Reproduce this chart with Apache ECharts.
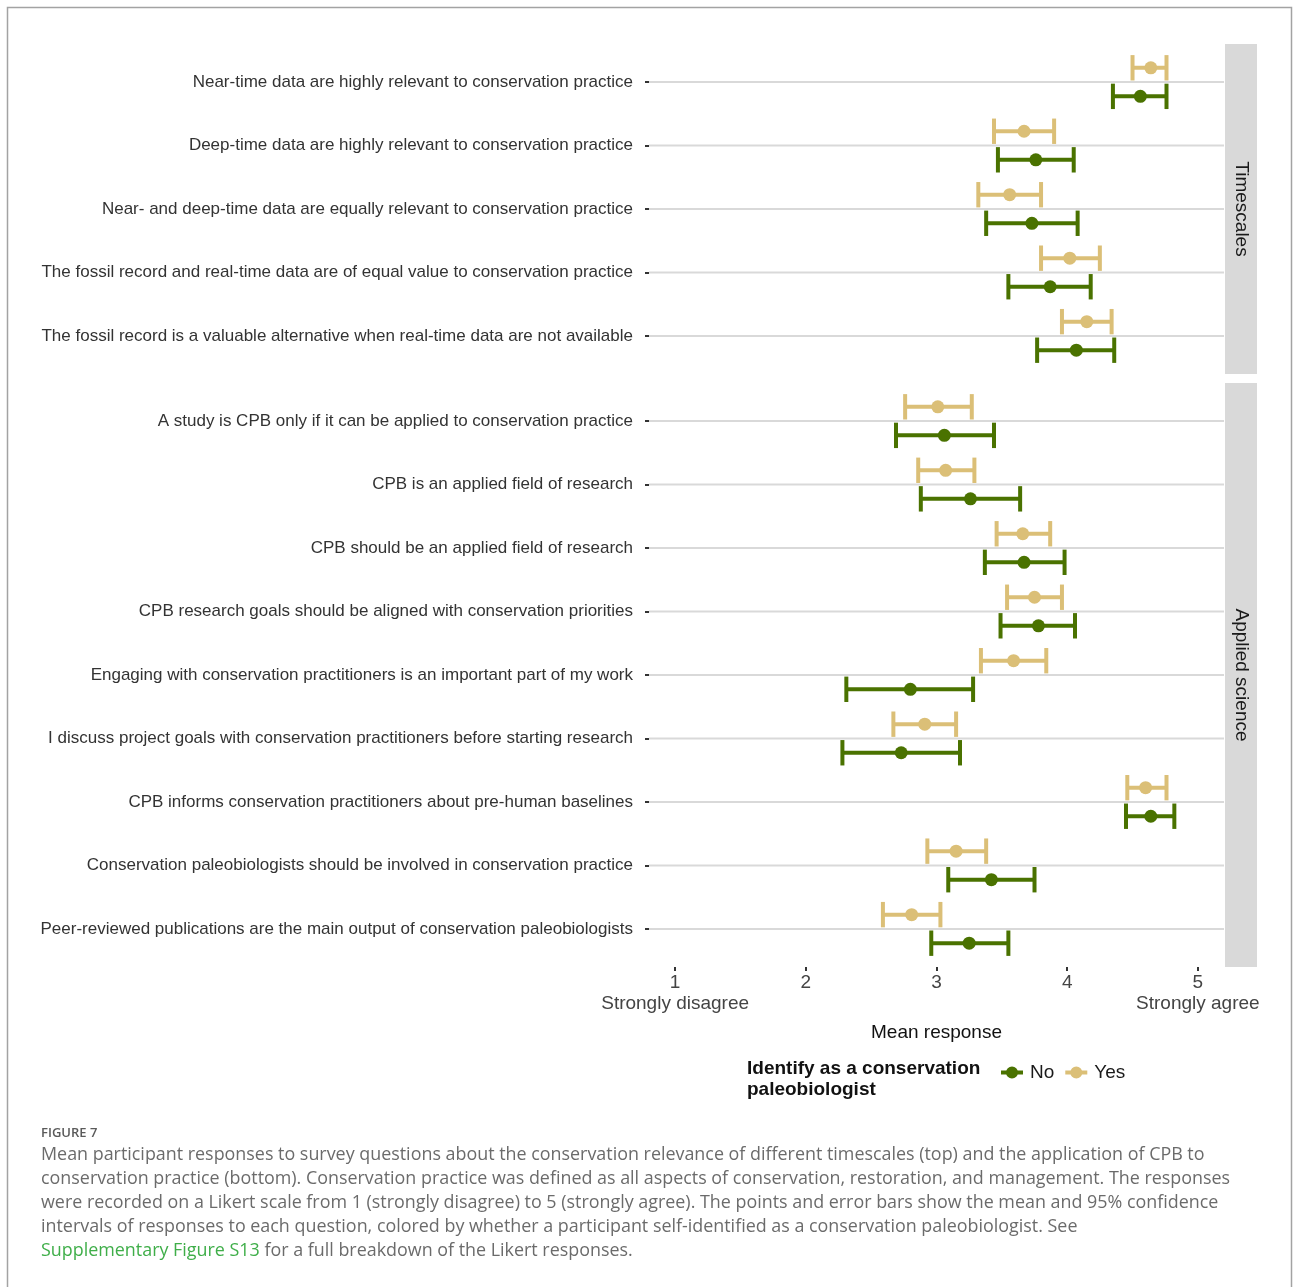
<!DOCTYPE html>
<html>
<head>
<meta charset="utf-8">
<title>Figure 7 – Conservation relevance survey</title>
<script src="https://cdn.jsdelivr.net/npm/echarts@6/dist/echarts.min.js"></script>
<style>
  html, body { margin: 0; padding: 0; background: #ffffff; }
  #chart { width: 1293px; height: 1287px; }
</style>
</head>
<body>
<div id="chart"></div>
<script>
// ---- Survey questions (top to bottom within each panel) ----
const timescaleQuestions = [
  'Near-time data are highly relevant to conservation practice',
  'Deep-time data are highly relevant to conservation practice',
  'Near- and deep-time data are equally relevant to conservation practice',
  'The fossil record and real-time data are of equal value to conservation practice',
  'The fossil record is a valuable alternative when real-time data are not available'
];
const appliedQuestions = [
  'A study is CPB only if it can be applied to conservation practice',
  'CPB is an applied field of research',
  'CPB should be an applied field of research',
  'CPB research goals should be aligned with conservation priorities',
  'Engaging with conservation practitioners is an important part of my work',
  'I discuss project goals with conservation practitioners before starting research',
  'CPB informs conservation practitioners about pre-human baselines',
  'Conservation paleobiologists should be involved in conservation practice',
  'Peer-reviewed publications are the main output of conservation paleobiologists'
];
const panelNames = ['Timescales', 'Applied science'];

// ---- Means and 95% confidence limits: "No" (not a conservation paleobiologist) ----
const timescaleNoMean = [4.56, 3.76, 3.73, 3.87, 4.07];
const timescaleNoLow  = [4.35, 3.47, 3.38, 3.55, 3.77];
const timescaleNoHigh = [4.76, 4.05, 4.08, 4.18, 4.36];
// ---- "Yes" (self-identified conservation paleobiologist) ----
const timescaleYesMean = [4.64, 3.67, 3.56, 4.02, 4.15];
const timescaleYesLow  = [4.50, 3.44, 3.32, 3.80, 3.96];
const timescaleYesHigh = [4.76, 3.90, 3.80, 4.25, 4.34];

const appliedNoMean = [3.06, 3.26, 3.67, 3.78, 2.80, 2.73, 4.64, 3.42, 3.25];
const appliedNoLow  = [2.69, 2.88, 3.37, 3.49, 2.31, 2.28, 4.45, 3.09, 2.96];
const appliedNoHigh = [3.44, 3.64, 3.98, 4.06, 3.28, 3.18, 4.82, 3.75, 3.55];
const appliedYesMean = [3.01, 3.07, 3.66, 3.75, 3.59, 2.91, 4.60, 3.15, 2.81];
const appliedYesLow  = [2.76, 2.86, 3.46, 3.54, 3.34, 2.67, 4.46, 2.93, 2.59];
const appliedYesHigh = [3.27, 3.29, 3.87, 3.96, 3.84, 3.15, 4.76, 3.38, 3.03];

// Likert scale ticks
const likertTicks = [1, 2, 3, 4, 5];
const likertEndLabels = { 1: 'Strongly disagree', 5: 'Strongly agree' };

const GREEN = '#4a7200';
const TAN = '#dbbf77';
const DODGE = 0.225;   // vertical offset of each group from the question line

const LABEL_FONT = '"Liberation Sans", Arial, Helvetica, sans-serif';

// ---- panel geometry ----
const plotLeft = 649, plotRight = 1224;
const panels = [
  { top: 44, height: 330, questions: timescaleQuestions,
    no: [timescaleNoLow, timescaleNoHigh, timescaleNoMean],
    yes: [timescaleYesLow, timescaleYesHigh, timescaleYesMean] },
  { top: 383, height: 584, questions: appliedQuestions,
    no: [appliedNoLow, appliedNoHigh, appliedNoMean],
    yes: [appliedYesLow, appliedYesHigh, appliedYesMean] }
];

function errorBarItem(params, api) {
  const pos = api.value(2);
  const lo = api.coord([api.value(0), pos]);
  const hi = api.coord([api.value(1), pos]);
  const half = Math.abs(api.size([0, 0.2])[1]);
  const style = { stroke: api.visual('color'), lineWidth: 4, fill: null };
  return {
    type: 'group',
    children: [
      { type: 'line', shape: { x1: lo[0], y1: lo[1], x2: hi[0], y2: hi[1] }, style },
      { type: 'line', shape: { x1: lo[0], y1: lo[1] - half, x2: lo[0], y2: lo[1] + half }, style },
      { type: 'line', shape: { x1: hi[0], y1: hi[1] - half, x2: hi[0], y2: hi[1] + half }, style }
    ]
  };
}

function gridLineItem(params, api) {
  const cs = params.coordSys;
  const y = api.coord([api.value(0), api.value(1)])[1];
  return {
    type: 'line',
    shape: { x1: cs.x, y1: y, x2: cs.x + cs.width, y2: y },
    style: { stroke: '#d9d9d9', lineWidth: 2 }
  };
}

const grids = [], xAxes = [], yAxes = [], series = [];

panels.forEach((p, gi) => {
  const n = p.questions.length;
  const idx = p.questions.map((_, i) => i);
  grids.push({ left: plotLeft, width: plotRight - plotLeft, top: p.top, height: p.height, containLabel: false });
  const isBottom = gi === panels.length - 1;
  xAxes.push({
    gridIndex: gi, type: 'value', min: 0.8, max: 5.2, position: 'bottom',
    axisLine: { show: false, onZero: false },
    splitLine: { show: false },
    axisTick: isBottom
      ? { show: true, customValues: likertTicks, length: 4, lineStyle: { color: '#333333', width: 2 } }
      : { show: false },
    axisLabel: isBottom
      ? {
          show: true, customValues: likertTicks, margin: 5,
          fontFamily: LABEL_FONT, fontSize: 19, color: '#444444', lineHeight: 21,
          formatter: v => likertEndLabels[v] ? v + '\n' + likertEndLabels[v] : String(v)
        }
      : { show: false }
  });
  yAxes.push({
    gridIndex: gi, type: 'value', inverse: true, min: -0.6, max: n - 1 + 0.6,
    axisLine: { show: false, onZero: false },
    splitLine: { show: false },
    axisTick: { show: true, customValues: idx, length: 4, lineStyle: { color: '#333333', width: 2 } },
    axisLabel: {
      show: true, customValues: idx, margin: 16,
      fontFamily: LABEL_FONT, fontSize: 17, color: '#333333',
      formatter: v => p.questions[Math.round(v)]
    }
  });

  // light horizontal line for each question
  series.push({
    type: 'custom', name: 'rows' + gi, xAxisIndex: gi, yAxisIndex: gi, silent: true, z: 1,
    renderItem: gridLineItem,
    encode: { x: 0, y: 1 },
    data: idx.map(i => [1, i])
  });

  [['No', p.no, GREEN, DODGE], ['Yes', p.yes, TAN, -DODGE]].forEach(([name, vals, color, off]) => {
    const [low, high, mean] = vals;
    series.push({
      type: 'custom', name, xAxisIndex: gi, yAxisIndex: gi, silent: true, z: 2,
      itemStyle: { color },
      renderItem: errorBarItem,
      encode: { x: [0, 1], y: 2 },
      data: idx.map(i => [low[i], high[i], i + off])
    });
    series.push({
      type: 'scatter', name, xAxisIndex: gi, yAxisIndex: gi, silent: true, z: 3,
      symbol: 'circle', symbolSize: 13,
      itemStyle: { color, opacity: 1 },
      data: idx.map(i => [mean[i], i + off])
    });
  });
});

// ---- caption text ----
const captionLines = [
  'Mean participant responses to survey questions about the conservation relevance of different timescales (top) and the application of CPB to',
  'conservation practice (bottom). Conservation practice was defined as all aspects of conservation, restoration, and management. The responses',
  'were recorded on a Likert scale from 1 (strongly disagree) to 5 (strongly agree). The points and error bars show the mean and 95% confidence',
  'intervals of responses to each question, colored by whether a participant self-identified as a conservation paleobiologist. See'
];
const captionLink = 'Supplementary Figure S13';
const captionTail = ' for a full breakdown of the Likert responses.';
const CAPTION_FONT = '"Open Sans", "Noto Sans", sans-serif';

// pick a caption size so the longest line spans the caption column
const measureCtx = document.createElement('canvas').getContext('2d');
measureCtx.font = '17px ' + CAPTION_FONT;
const captionSize = Math.min(18, 17 * 1190 / measureCtx.measureText(captionLines[1]).width);

const strips = panels.map((p, gi) => ([
  { type: 'rect', shape: { x: 1225, y: p.top, width: 32, height: p.height }, style: { fill: '#d9d9d9' }, silent: true },
  { type: 'text', x: 1241, y: p.top + p.height / 2, rotation: -Math.PI / 2,
    style: { text: panelNames[gi], fontFamily: LABEL_FONT, fontSize: 19, fill: '#1a1a1a', align: 'center', verticalAlign: 'middle' } }
])).flat();

const captionElems = captionLines.map((t, i) => ({
  type: 'text', x: 41, y: 1155 + i * 24,
  style: { text: t, fontFamily: CAPTION_FONT, fontSize: captionSize, fill: '#6b6b6b', verticalAlign: 'middle' }
}));
captionElems.push({
  type: 'text', x: 41, y: 1155 + 4 * 24,
  style: {
    text: '{link|' + captionLink + '}{tail|' + captionTail + '}',
    verticalAlign: 'middle',
    rich: {
      link: { fontFamily: CAPTION_FONT, fontSize: captionSize, fill: '#3fae49', color: '#3fae49' },
      tail: { fontFamily: CAPTION_FONT, fontSize: captionSize, fill: '#6b6b6b', color: '#6b6b6b' }
    }
  }
});

const legendIcon = 'path://M0,5H22V9H0Z M11,1A6,6 0 1,1 11,13A6,6 0 1,1 11,1Z';

const chart = echarts.init(document.getElementById('chart'), null, { renderer: 'canvas' });
chart.setOption({
  animation: false,
  backgroundColor: '#ffffff',
  grid: grids,
  xAxis: xAxes,
  yAxis: yAxes,
  series,
  legend: {
    left: 996, top: 1058, orient: 'horizontal',
    itemWidth: 22, itemHeight: 12, itemGap: 11, selectedMode: false,
    textStyle: { fontFamily: LABEL_FONT, fontSize: 19, color: '#1a1a1a', padding: [0, 0, 0, 2] },
    data: [
      { name: 'No', icon: legendIcon, itemStyle: { color: GREEN } },
      { name: 'Yes', icon: legendIcon, itemStyle: { color: TAN } }
    ]
  },
  graphic: [
    // figure frame
    { type: 'polyline', shape: { points: [[7.5, 1290], [7.5, 7.5], [1291.5, 7.5], [1291.5, 1290]] },
      style: { stroke: '#a3a3a3', lineWidth: 1.5, fill: null }, silent: true },
    ...strips,
    { type: 'text', x: (plotLeft + plotRight) / 2, y: 1033,
      style: { text: 'Mean response', fontFamily: LABEL_FONT, fontSize: 19, fill: '#111111', align: 'center', verticalAlign: 'middle' } },
    { type: 'text', x: 747, y: 1058,
      style: { text: 'Identify as a conservation\npaleobiologist', fontFamily: LABEL_FONT, fontSize: 19, fontWeight: 'bold',
               fill: '#111111', lineHeight: 21, verticalAlign: 'top' } },
    { type: 'text', x: 41, y: 1133,
      style: { text: 'FIGURE 7', fontFamily: CAPTION_FONT, fontSize: 13, fontWeight: 600, fill: '#5a5a5a', verticalAlign: 'middle' } },
    ...captionElems
  ]
});
</script>
</body>
</html>
